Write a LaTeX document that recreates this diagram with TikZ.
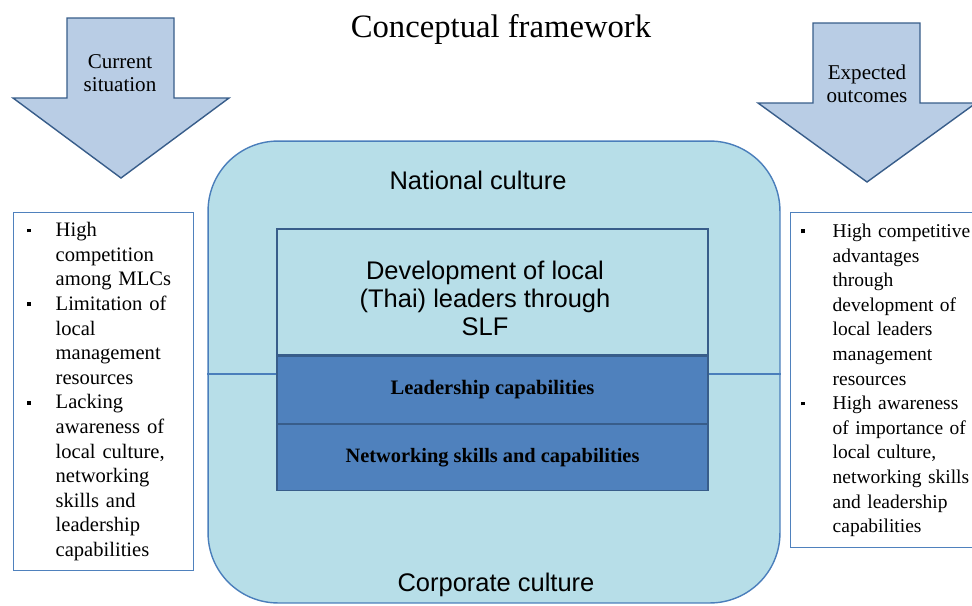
\documentclass[tikz,border=0pt]{standalone}
\usepackage{fontspec}
\setmainfont{Liberation Serif}
\newfontfamily\arial{Liberation Sans}
\usetikzlibrary{shapes,arrows,positioning,fit,calc}

\definecolor{aqua}{HTML}{B7DEE8}
\definecolor{edge}{HTML}{4A7EBB}
\definecolor{deep}{HTML}{4F81BD}
\definecolor{pale}{HTML}{B9CDE5}
\definecolor{frame}{HTML}{385D8A}
\newcommand{\itm}{\rule[2.4pt]{2.2pt}{2.2pt}}

\begin{document}
\begin{tikzpicture}[x=0.02cm, y=-0.02cm,
    bigarrow/.style={draw=frame, fill=pale, line width=0.8pt},
    layer/.style={draw=frame, line width=0.8pt, minimum width=8.62cm, inner sep=0pt, align=center},
    listbox/.style={draw=deep, line width=0.8pt, anchor=north west, inner ysep=0pt, align=left}]
  \useasboundingbox (0,0) rectangle (972,605);
  \clip (0,0) rectangle (972,605);

  \node (title) at (501,29) {\fontsize{18.6}{20}\selectfont Conceptual framework};

  % arrows
  \draw[bigarrow] (67,18) -- (174,18) -- (174,98) -- (229,98) -- (121,178) -- (13,98) -- (67,98) -- cycle;
  \node[align=center, font=\fontsize{12}{13}\selectfont] (cur) at (120,73) {Current\\situation};
  \draw[bigarrow] (813,23) -- (920,23) -- (920,103) -- (976,103) -- (867,182) -- (758,103) -- (813,103) -- cycle;
  \node[align=center, font=\fontsize{12}{13}\selectfont] (expect) at (867,84) {Expected\\outcomes};

  % cultures
  \node[draw=edge, fill=aqua, rounded corners=1.4cm, line width=0.8pt,
    minimum width=11.44cm, minimum height=9.24cm] (culture) at (494,372) {};
  \coordinate (mid) at (0,374);
  \draw[edge, line width=0.8pt] (culture.west |- mid) -- (culture.east |- mid);
  \node[font=\arial\fontsize{14.5}{16}\selectfont] (national) at (478,180) {National culture};
  \node[font=\arial\fontsize{14.5}{16}\selectfont] (corporate) at (496,585) {Corporate culture};

  \node[layer, fill=aqua, minimum height=2.52cm] (dev) at (492.5,292) {};
  \node[align=center, font=\arial\fontsize{14.5}{16}\selectfont] (devtext) at (485,298)
    {Development of local\\(Thai) leaders through\\SLF};
  \node[layer, fill=deep, minimum height=1.34cm, below=0pt of dev, font=\bfseries\fontsize{11.7}{14}\selectfont] (lead)
    {Leadership capabilities};
  \node[layer, fill=deep, minimum height=1.32cm, below=0pt of lead, font=\bfseries\fontsize{11.6}{14}\selectfont] (net)
    {Networking skills and capabilities};

  % side lists
  \node[listbox, minimum width=3.6cm, minimum height=7.16cm, inner xsep=0.26cm, text width=3.08cm,
    font=\fontsize{11.7}{14}\selectfont] (now) at (13,212) {%
    \begin{tabular}{@{}p{0.58cm}@{}l@{}}
      \itm & High\\
      & competition\\
      & among MLCs\\
      \itm & Limitation of\\
      & local\\
      & management\\
      & resources\\
      \itm & Lacking\\
      & awareness of\\
      & local culture,\\
      & networking\\
      & skills and\\
      & leadership\\
      & capabilities
    \end{tabular}};
  \node[listbox, minimum width=4cm, minimum height=6.7cm, inner xsep=0.2cm, text width=3.6cm,
    font=\fontsize{11.1}{14}\selectfont] (later) at (790,212) {%
    \begin{tabular}{@{}p{0.64cm}@{}l@{}}
      \itm & High competitive\\
      & advantages\\
      & through\\
      & development of\\
      & local leaders\\
      & management\\
      & resources\\
      \itm & High awareness\\
      & of importance of\\
      & local culture,\\
      & networking skills\\
      & and leadership\\
      & capabilities
    \end{tabular}};
\end{tikzpicture}
\end{document}
